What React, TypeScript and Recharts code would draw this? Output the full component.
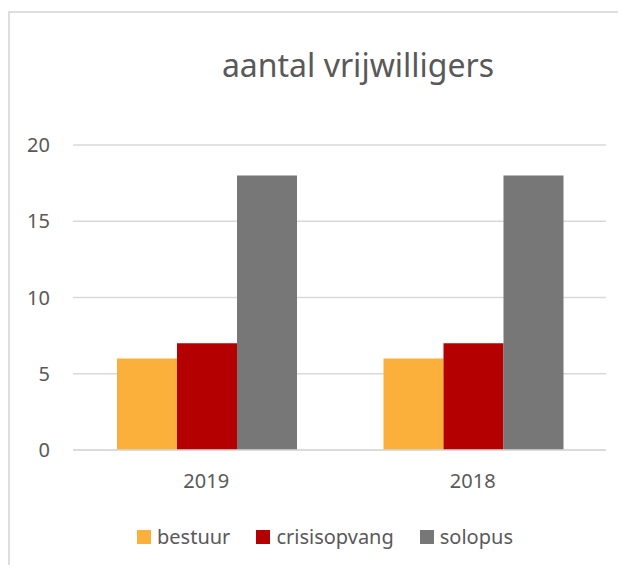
import React from 'react';
import { BarChart, Bar, XAxis, YAxis, CartesianGrid, Legend } from 'recharts';

const categories = ['2019', '2018'];
const bestuur = [6, 6];
const crisisopvang = [7, 7];
const solopus = [18, 18];
const yTicks = [0, 5, 10, 15, 20];
const seriesKeys = ['bestuur', 'crisisopvang', 'solopus'];
const seriesColors = ['#FBB03B', '#B40000', '#777777'];

const data = categories.map((c, i) => ({
  name: c,
  bestuur: bestuur[i],
  crisisopvang: crisisopvang[i],
  solopus: solopus[i],
}));

const FONT = '"Noto Sans", sans-serif';
const TEXT = '#595959';

const LegendContent = (props: any) => {
  const payload = props.payload || [];
  return (
    <div style={{ display: 'flex', justifyContent: 'center', alignItems: 'center', paddingLeft: 16, fontFamily: FONT, fontSize: 20, color: TEXT }}>
      {payload.map((p: any, i: number) => (
        <div key={i} style={{ display: 'flex', alignItems: 'center', marginRight: i < payload.length - 1 ? 26 : 0 }}>
          <span style={{ display: 'inline-block', width: 14, height: 14, background: p.color, marginRight: 6 }} />
          <span>{p.value}</span>
        </div>
      ))}
    </div>
  );
};

export default function App() {
  return (
    <div style={{ position: 'relative', width: 618, height: 557, overflow: 'hidden', background: '#fff' }}>
      <div style={{ position: 'absolute', left: 0, top: 3, width: 700, height: 700, borderTop: '2px solid #dedede', borderLeft: '2px solid #dedede', boxSizing: 'border-box' }} />
      <div style={{ position: 'absolute', left: 0, width: 700, top: 41, textAlign: 'center', fontFamily: FONT, fontSize: 32, color: TEXT, lineHeight: '32px', whiteSpace: 'nowrap' }}>
        aantal vrijwilligers
      </div>
      <div style={{ position: 'absolute', left: 0, top: 0 }}>
        <BarChart width={618} height={557} data={data} margin={{ top: 137, right: 20, left: 0, bottom: 85 }} barCategoryGap={44} barGap={0}>
          <CartesianGrid vertical={false} stroke="#d9d9d9" strokeWidth={1.5} />
          <XAxis dataKey="name" tickLine={false} axisLine={{ stroke: '#d9d9d9', strokeWidth: 1.5 }} tickSize={6} tickMargin={18} tick={{ fill: TEXT, fontFamily: FONT, fontSize: 20 }} height={30} />
          <YAxis domain={[0, 20]} ticks={yTicks} width={65} axisLine={false} tickLine={false} tickSize={6} tickMargin={17} tick={{ fill: TEXT, fontFamily: FONT, fontSize: 20 }} />
          <Legend verticalAlign="middle" align="center" content={<LegendContent />} wrapperStyle={{ top: 515, left: 0, width: 618 }} />
          {seriesKeys.map((k, i) => (
            <Bar key={k} dataKey={k} fill={seriesColors[i]} isAnimationActive={false} />
          ))}
        </BarChart>
      </div>
    </div>
  );
}
